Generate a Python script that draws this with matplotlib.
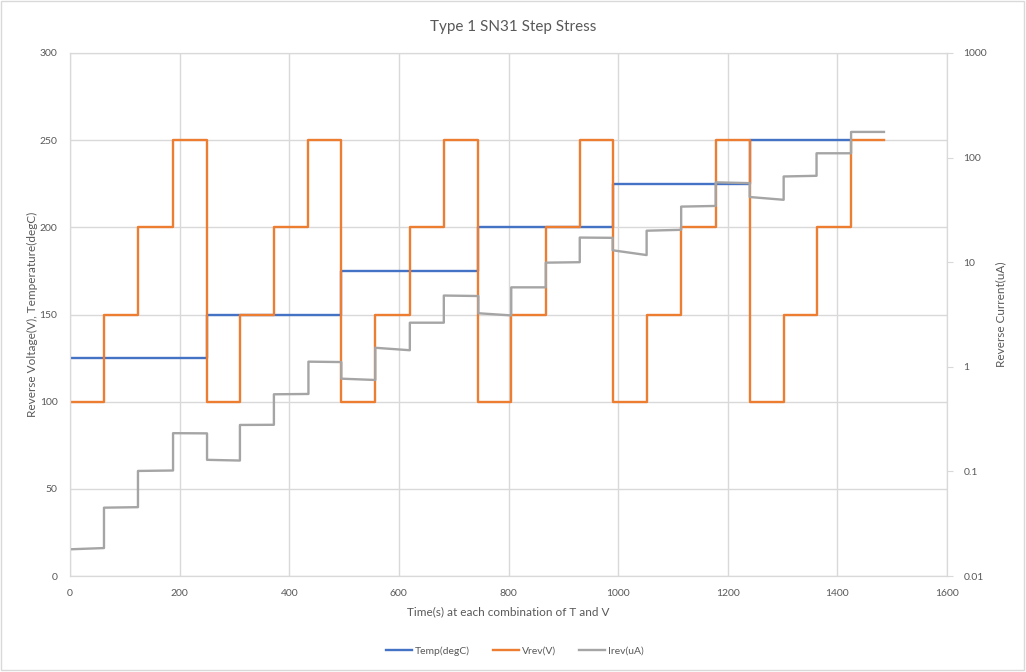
from matplotlib import pyplot as plt
from matplotlib.patches import Rectangle
from matplotlib.ticker import FixedLocator, FuncFormatter, NullLocator
import numpy as np

# step boundaries (s), 4 voltage steps per temperature
step_edges = [0, 62, 124, 188, 250, 310, 372, 435, 495, 557, 620, 682, 745,
              805, 868, 930, 990, 1052, 1115, 1178, 1240, 1302, 1362, 1425, 1485]
vrev = [100, 150, 200, 250, 100, 150, 200, 250, 100, 150, 200, 250,
        100, 150, 200, 250, 100, 150, 200, 250, 100, 150, 200, 250]

temp_edges = [0, 250, 495, 745, 990, 1240, 1425]
temp = [125, 150, 175, 200, 225, 250]

# reverse current at start / end of each step (uA)
irev_start = [0.0180, 0.0450, 0.101, 0.232, 0.129, 0.278, 0.546, 1.12,
              0.77, 1.52, 2.64, 4.80, 3.25, 5.75, 9.9, 17.2,
              13.0, 20.0, 34.0, 58.0, 42.0, 66.0, 110.0, 176.0]
irev_end = [0.0185, 0.0455, 0.102, 0.231, 0.127, 0.279, 0.550, 1.11,
            0.748, 1.44, 2.64, 4.75, 3.10, 5.75, 10.0, 17.1,
            11.7, 20.4, 34.5, 57.0, 39.5, 67.0, 110.0, 176.0]

BLUE = '#4472C4'
ORANGE = '#ED7D31'
GRAY = '#A5A5A5'
TXT = '#595959'
GRID = '#D9D9D9'

plt.rcParams['font.family'] = ['Lato', 'DejaVu Sans']


def step_xy(edges, values):
    x = np.repeat(edges, 2)[1:-1]
    y = np.repeat(values, 2)
    return x, y


fig = plt.figure(figsize=(10.26, 6.72), dpi=100)
ax1 = fig.add_axes([70 / 1026, 96 / 672, 877 / 1026, 523 / 672])
ax2 = ax1.twinx()

tx, ty = step_xy(temp_edges, temp)
l1, = ax1.plot(tx, ty, color=BLUE, lw=1.7, label='Temp(degC)')
vx, vy = step_xy(step_edges, vrev)
l2, = ax1.plot(vx, vy, color=ORANGE, lw=1.7, label='Vrev(V)')

ix = np.repeat(step_edges, 2)[1:-1]
iy = np.ravel(np.column_stack([irev_start, irev_end]))
l3, = ax2.plot(ix, iy, color=GRAY, lw=1.7, label='Irev(uA)')

ax1.set_xlim(0, 1600)
ax1.set_ylim(0, 300)
ax1.set_xticks(np.arange(0, 1601, 200))
ax1.set_yticks(np.arange(0, 301, 50))
ax1.grid(True, color=GRID, lw=1)
ax1.set_axisbelow(True)

ax2.set_yscale('log')
ax2.set_ylim(0.01, 1000)
ax2.yaxis.set_major_locator(FixedLocator([0.01, 0.1, 1, 10, 100, 1000]))
ax2.yaxis.set_minor_locator(NullLocator())
ax2.yaxis.set_major_formatter(FuncFormatter(lambda v, p: '%g' % v))

for ax in (ax1, ax2):
    for s in ax.spines.values():
        s.set_color(GRID)
    ax.tick_params(labelsize=7.5, labelcolor=TXT)
ax1.tick_params(axis='both', length=0, pad=9)
ax2.tick_params(axis='y', length=4, color=GRID, pad=8)

ax1.set_xlabel('Time(s) at each combination of T and V', fontsize=8.5, color=TXT, labelpad=6)
ax1.set_ylabel('Reverse Voltage(V), Temperature(degC)', fontsize=8.5, color=TXT, labelpad=1)
ax2.set_ylabel('Reverse Current(uA)', fontsize=8.5, color=TXT, labelpad=6)

fig.text(513 / 1026, 1 - 27 / 672, 'Type 1 SN31 Step Stress', ha='center', va='center',
         fontsize=11, color=TXT)

fig.legend(handles=[l1, l2, l3], loc='center', bbox_to_anchor=(515 / 1026, 1 - 651 / 672),
           ncol=3, frameon=False, fontsize=7.5, labelcolor=TXT, handlelength=2.5,
           handletextpad=0.3, columnspacing=2.2)

fig.patches.append(Rectangle((0.5 / 1026, 2 / 672), 1023 / 1026, 669 / 672, transform=fig.transFigure,
                             fill=False, edgecolor=GRID, lw=1))

fig.savefig('out.png', dpi=100)
